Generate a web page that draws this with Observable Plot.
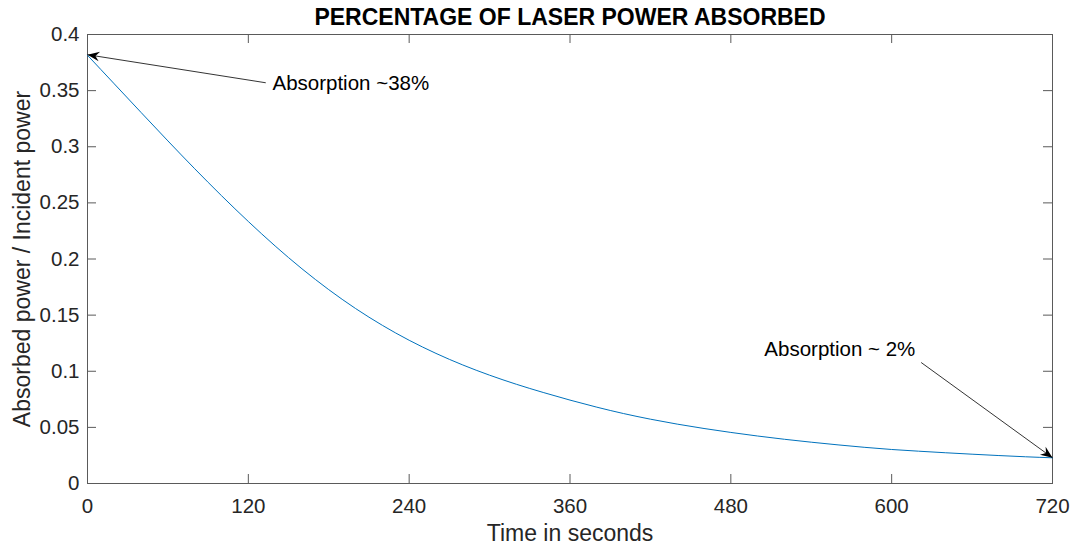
<!DOCTYPE html>
<html>
<head>
<meta charset="utf-8">
<script src="https://cdn.jsdelivr.net/npm/d3@7"></script>
<script src="https://cdn.jsdelivr.net/npm/@observablehq/plot@0.6"></script>
<style>
  html, body { margin: 0; padding: 0; background: #ffffff; }
  #chart { width: 1077px; height: 550px; }
</style>
</head>
<body>
<div id="chart"></div>
<script>
// ---- Data ----
const timeSeconds = [0, 20, 40, 60, 80, 100, 120, 140, 160, 180, 200, 220, 240, 260, 280, 300, 320, 340, 360, 380, 400, 420, 440, 460, 480, 500, 520, 540, 560, 580, 600, 620, 640, 660, 680, 700, 720];
const absorbedRatio = [0.3815, 0.3560, 0.3305, 0.3052, 0.2804, 0.2564, 0.2334, 0.2116, 0.1913, 0.1727, 0.1559, 0.1409, 0.1276, 0.1159, 0.1056, 0.0965, 0.0884, 0.0811, 0.0743, 0.0680, 0.0623, 0.0573, 0.0529, 0.0490, 0.0455, 0.0423, 0.0394, 0.0368, 0.0344, 0.0322, 0.0303, 0.0288, 0.0274, 0.0261, 0.0249, 0.0238, 0.0229];

const xTicks = [0, 120, 240, 360, 480, 600, 720];
const yTicks = [0, 0.05, 0.1, 0.15, 0.2, 0.25, 0.3, 0.35, 0.4];

const titleText = "PERCENTAGE OF LASER POWER ABSORBED";
const xLabel = "Time in seconds";
const yLabel = "Absorbed power / Incident power";

// annotations: text position, arrow start and arrow tip (data units)
const noteTexts = ["Absorption ~38%", "Absorption ~ 2%"];
const noteTextX = [138, 505];
const noteTextY = [0.356, 0.1194];
const arrowFromX = [133, 622];
const arrowFromY = [0.357, 0.1078];
const arrowToX = [0, 720];
const arrowToY = [0.382, 0.0229];

// ---- Build ----
const W = 1077, H = 550;
const mL = 87, mR = 25, mT = 34, mB = 67;
const innerW = W - mL - mR, innerH = H - mT - mB;
const tickLen = 9;
const axisColor = "#5a5a5a";
const textColor = "#262626";

const curve = timeSeconds.map((t, i) => ({t, v: absorbedRatio[i]}));

const px = d3.scaleLinear([0, 720], [mL, W - mR]);
const py = d3.scaleLinear([0, 0.4], [H - mB, mT]);
const notes = noteTexts.map((label, i) => {
  const a = Math.atan2(py(arrowToY[i]) - py(arrowFromY[i]), px(arrowToX[i]) - px(arrowFromX[i])) * 180 / Math.PI;
  return {label, tx: noteTextX[i], ty: noteTextY[i], x1: arrowFromX[i], y1: arrowFromY[i], x2: arrowToX[i], y2: arrowToY[i], angle: a};
});

// MATLAB-like filled arrow head, tip at origin pointing to +x
const arrowHead = {
  draw(context) {
    context.moveTo(0, 0);
    context.lineTo(-12, -4.8);
    context.lineTo(-8, 0);
    context.lineTo(-12, 4.8);
    context.closePath();
  }
};

const fmt = d => String(+d.toFixed(2));

const chart = Plot.plot({
  width: W,
  height: H,
  marginLeft: mL,
  marginRight: mR,
  marginTop: mT,
  marginBottom: mB,
  style: {fontFamily: "'Liberation Sans', Arial, Helvetica, sans-serif", fontSize: "20px", background: "#ffffff", color: textColor},
  x: {domain: [0, 720]},
  y: {domain: [0, 0.4]},
  marks: [
    Plot.frame({stroke: axisColor}),
    // inward ticks on all four sides
    Plot.ruleX(xTicks, {x: d => d, insetTop: innerH - tickLen, stroke: axisColor}),
    Plot.ruleX(xTicks, {x: d => d, insetBottom: innerH - tickLen, stroke: axisColor}),
    Plot.ruleY(yTicks, {y: d => d, insetRight: innerW - tickLen, stroke: axisColor}),
    Plot.ruleY(yTicks, {y: d => d, insetLeft: innerW - tickLen, stroke: axisColor}),
    Plot.axisX({ticks: xTicks, tickSize: 0, tickPadding: 15, tickFormat: fmt, label: null, fontSize: 20.5, fill: textColor}),
    Plot.axisY({ticks: yTicks, tickSize: 0, tickPadding: 8, tickFormat: fmt, label: null, fontSize: 20.5, fill: textColor}),
    Plot.line(curve, {x: "t", y: "v", stroke: "#0072BD", strokeWidth: 1, curve: "monotone-x"}),
    Plot.link(notes, {x1: "x1", y1: "y1", x2: "x2", y2: "y2", stroke: "#000", strokeWidth: 0.8}),
    Plot.dot(notes, {x: "x2", y: "y2", symbol: arrowHead, rotate: "angle", fill: "#000", stroke: "none", r: 6}),
    Plot.text(notes, {x: "tx", y: "ty", text: "label", textAnchor: "start", fontSize: 20.5, fill: "#000"}),
    Plot.text([titleText], {text: d => d, frameAnchor: "top", dy: -17, lineAnchor: "middle", fontSize: 23, fontWeight: "bold", fill: "#000"}),
    Plot.text([xLabel], {text: d => d, frameAnchor: "bottom", dy: 50, lineAnchor: "middle", fontSize: 23, fill: textColor}),
    Plot.text([yLabel], {text: d => d, frameAnchor: "left", dx: -65, rotate: -90, textAnchor: "middle", lineAnchor: "middle", fontSize: 23, fill: textColor})
  ]
});

document.getElementById("chart").appendChild(chart);
</script>
</body>
</html>
